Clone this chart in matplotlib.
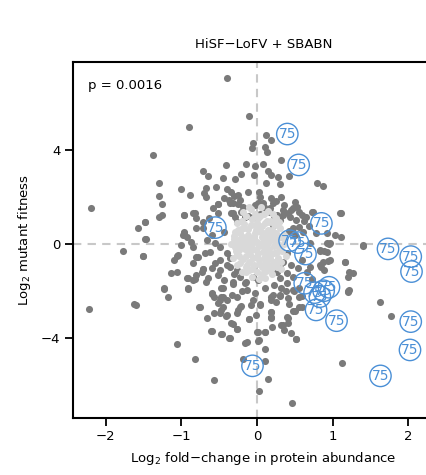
import matplotlib.pyplot as plt

# dark gray points (log2 fold-change, log2 fitness)
dark_x = [-0.40, -0.10, -0.90, -1.37, 0.12, 0.18, -0.05, -0.07, 0.10, 0.13, 0.32, -0.41, -0.14, -0.03, 0.08,
          -0.72, -0.65, -0.21, -0.04, 0.15, 0.19, 0.28, 0.42, -0.45, -0.29, -1.30, 0.12, 0.30, 0.79, 0.87,
          -1.01, -0.88, -0.67, -0.70, -0.68, -0.54, -0.40, -0.34, -0.25, -0.12, 0.03, 0.04, -1.29, -1.25, -2.19,
          -0.51, -0.37, -0.32, -0.23, 0.18, 0.21, 0.32, 0.50, 0.53, 0.01, 0.09, -0.32, -0.21, -0.12, -0.05,
          0.04, 0.17, 0.26, 0.34, 0.43, 0.56, 0.65, 0.74, 1.11, -0.96, -0.82, -0.80, -1.30, -1.48, -1.57,
          -0.96, -0.80, -0.98, -0.29, 0.21, 0.30, 0.78, 1.03, 1.11,
          -1.77, -1.50, -1.47, -1.13, -1.06, -1.09, -1.06, -0.93, -0.91, -1.23, -1.17, -1.63, -1.60, -2.22,
          -0.82, -0.80, -0.85, -0.80, -0.71, -0.68, -0.60, -0.57, -0.76, -0.66, -0.60, -0.57, -1.06, -0.82,
          -0.46, -0.36, -0.47, -0.41, -0.32, -0.26, -0.25, -0.21, -0.16, -0.13, -0.19, -0.10, 0.01, 0.03,
          0.11, 0.10, 0.15, 0.03, 0.46, 1.12, 1.62, 1.77, 1.40, 0.18, 0.19, 0.20, 0.10, 0.32, 0.35, 0.41,
          0.51, 0.48, 0.56, 0.59, 0.49, 0.31, 0.21, 0.18, 0.04, -0.05, -0.03, -0.13, -0.16, -0.32, -0.45,
          -0.45, -0.49, -0.40, 0.94, 1.16, 1.20, 1.27, 1.20, 0.87, 0.85, 0.70, 0.92, 0.95, 0.83, 0.89, 0.56,
          -1.26, -1.48, -1.48, -1.51, -0.97, -0.84, -0.96, -0.93, -1.00, -0.87, -0.85, -0.71, -0.52, -0.51,
          -0.36, -0.25, -0.34, -0.27, -0.16, -0.56, -0.49, -0.62, -0.69, -0.78, -1.04, -0.40, -0.36, -0.49,
          -0.71, -0.60, -0.49, -0.51, -0.36, -0.27, -0.23, -0.14, -0.32, -0.43, -0.47, -0.91, -0.85, -0.73,
          -0.65, -0.91, -1.23,
          -0.03, 0.08, 0.17, 0.23, 0.34, 0.41, 0.48, 0.52, 0.48, 0.59, 0.72, 1.09, 0.56, 0.61, 0.92, 0.96,
          1.40, 0.83, 0.92, 0.96, 1.16, 0.83, 0.89, 1.22, 0.39, 0.34, 0.30, 0.26, 0.39, 0.48, 0.54, 0.70,
          0.39, 0.48, 0.32, 0.23, 1.22, 0.01, -0.05,
          -0.75, -0.61, -0.60, -0.47, -0.51, -0.45, -0.49, -0.40, -0.57, -0.27, -0.23, -0.26, -0.34, -0.27,
          -0.47, -0.37, -0.11,
          0.04, -0.01, 0.19, 0.30, 0.41, 0.42, 0.19, 0.19, 0.39, 0.41, 0.34, 0.45, 0.52, 0.50, 0.59, 0.56,
          0.00, 0.10, 0.01, 1.20,
          -0.58, -0.44, -0.30, -0.18, 0.25, 0.36, 0.45, 0.62, 0.68, -0.63, -0.72, -0.60, -0.66, -0.43, -0.40,
          -0.55, -0.30, 0.30, 0.45, 0.60, 0.66, 0.10, -0.20, 0.25, -0.08, 0.38, -0.33, 0.72, 0.50, 0.42]
dark_y = [7.08, 5.48, 4.99, 3.82, 4.66, 4.44, 4.30, 4.09, 4.13, 3.94, 3.59, 3.38, 3.40, 3.33, 3.42,
          3.12, 2.92, 2.99, 2.95, 3.12, 2.95, 2.85, 2.91, 2.83, 2.76, 2.62, 2.62, 2.56, 2.59, 2.49,
          2.34, 2.09, 2.38, 2.17, 2.02, 2.42, 2.34, 2.24, 2.09, 2.24, 2.24, 2.02, 2.05, 1.71, 1.55,
          1.71, 1.88, 1.76, 1.88, 1.95, 1.74, 2.00, 1.81, 1.59, 1.74, 1.59, 1.31, 1.38, 1.20, 1.17,
          1.28, 1.38, 1.24, 1.45, 1.17, 1.38, 1.17, 1.38, 1.31, 1.24, 1.31, 1.10, 1.17, 0.93, 0.67,
          0.53, 0.67, 0.38, 1.17, 0.81, 1.03, 0.46, 0.38, 0.29,
          -0.30, -0.50, 0.20, -1.23, -1.18, -0.68, -0.51, -1.44, -1.94, -1.91, -2.28, -2.56, -2.62, -2.79,
          -1.51, -1.32, -0.83, -0.54, -1.08, -1.64, -2.08, -2.25, -2.68, -3.15, -3.70, -5.81, -4.27, -4.91,
          -3.85, -4.03, -2.82, -3.08, -3.42, -3.65, -2.82, -2.65, -4.24, -4.18, -4.93, -3.22, -3.75, -4.10,
          -4.47, -4.99, -5.77, -6.27, -6.78, -5.07, -2.49, -3.06, -0.09, -2.89, -3.13, -3.53, -3.75, -3.46, -3.68, -3.18,
          -4.07, -2.85, -2.68, -2.22, -2.01, -2.22, -2.18, -2.39, -2.56, -2.39, -2.11, -1.97, -1.68, -1.71, -1.89,
          -2.25, -2.39, -2.39, -0.73, -0.78, -1.40, -1.25, -2.01, -0.76, -0.97, 0.03, 0.03, -0.01, -0.29, -0.29, -1.89,
          1.24, 0.95, 0.20, -0.51, 1.24, 1.31, 0.46, 0.31, -0.04, 0.10, -0.12, 0.67, 1.71, 1.31,
          1.74, 1.71, 1.31, 0.95, 1.17, 0.03, -0.12, -0.33, -0.40, -0.54, -0.47, -0.40, -0.61, -0.68,
          -1.08, -1.04, -1.11, -1.32, -0.97, -1.11, -1.40, -1.61, -1.61, -1.54, -1.89, -1.47, -1.54, -1.18,
          -1.47, -1.89, -1.89,
          1.67, 1.74, 1.53, 1.17, 1.24, 1.31, 1.53, 1.03, 0.67, 1.24, 1.38, 1.31, 0.74, 0.53, 0.46, 0.03,
          -0.04, -0.26, -0.33, -0.68, -0.76, -0.90, -1.11, -1.18, -0.40, -0.76, -0.97, -1.18, -1.25, -1.40, -1.04, -0.97,
          -1.68, -1.97, -1.89, -1.75, -1.97, -1.54, -1.40,
          -2.68, -3.72, -2.14, -2.25, -2.54, -2.68, -2.96, -3.03, -2.96, -2.25, -2.68, -2.96, -3.39, -3.65,
          -3.85, -4.03, -3.21,
          -2.61, -3.03, -2.25, -2.18, -2.32, -2.56, -2.89, -3.18, -3.11, -3.36, -3.46, -3.79, -4.07, -2.85, -2.68, -2.25,
          -3.75, -3.75, -4.13, -2.04,
          1.55, 1.95, 2.05, 1.60, 1.85, 1.65, 1.45, 1.00, 0.75, 1.10, 0.95, 0.40, 0.15, 0.50, -0.90,
          -0.80, -1.30, -1.45, -0.90, -0.70, -1.20, -1.90, -2.00, -2.50, -2.60, -2.00, -2.20, -1.50, 0.40, 0.55]

# light gray points in the centre
light_x = [-0.30, -0.28, -0.25, -0.22, -0.20, -0.18, -0.15, -0.12, -0.10, -0.08, -0.05, -0.03, 0.00, 0.02,
           0.05, 0.07, 0.10, 0.12, 0.15, 0.18, 0.20, 0.22, 0.25, 0.28, 0.30, 0.33, 0.35, -0.32, -0.26, -0.21,
           -0.17, -0.13, -0.09, -0.06, -0.02, 0.01, 0.04, 0.08, 0.11, 0.14, 0.17, 0.21, 0.24, 0.27, 0.31,
           -0.34, -0.29, -0.24, -0.19, -0.14, -0.11, -0.07, -0.04, 0.00, 0.03, 0.06, 0.09, 0.13, 0.16, 0.19,
           0.23, 0.26, 0.29, -0.23, -0.16, -0.10, 0.05, 0.15, -0.20, 0.00, 0.20, 0.38, 0.36, -0.12, 0.08,
           -0.04, 0.12, -0.27, 0.10, -0.05, -0.08, 0.02, 0.18, -0.15, 0.25,
           -0.31, -0.27, -0.24, -0.22, -0.19, -0.17, -0.14, -0.12, -0.09, -0.07, -0.06, -0.03, -0.01, 0.01,
           0.03, 0.06, 0.08, 0.10, 0.12, 0.14, 0.16, 0.18, 0.21, 0.23, 0.25, 0.27, 0.29, 0.32, 0.34, -0.29,
           -0.26, -0.21, -0.16, -0.11, -0.04, 0.04, 0.09, 0.13, 0.19, 0.22, -0.08, 0.00, 0.06, -0.15, 0.28,
           -0.02, 0.14, -0.18, 0.32, 0.11]
light_y = [0.2, -0.3, 0.6, -0.8, 1.0, 0.0, -0.5, 0.4, -1.1, 0.8, -0.2, 1.3, 0.1, -0.7,
           0.5, -1.3, 0.9, -0.4, 0.2, -0.9, 0.6, -0.1, 1.1, -0.6, 0.3, -0.3, 0.0, -0.6, 0.9, -0.1,
           0.7, -0.9, 0.2, -1.4, 0.6, -0.4, 1.2, -0.1, -1.0, 0.6, -0.6, 1.3, 0.2, -1.0, 0.7,
           0.0, 0.5, -0.5, 0.3, 1.2, -0.3, 0.0, -0.9, 0.9, -0.1, 0.3, -0.6, 1.0, -0.2, 0.4,
           -0.4, 0.8, -0.1, 0.2, -0.2, 1.6, 1.6, 1.4, -1.2, -1.2, -1.3, -0.5, 0.4, 0.0, 0.1,
           0.3, -0.2, -0.9, -0.8, -0.6, 1.5, -1.5, 1.0, -1.2, -0.8,
           0.35, 0.05, -0.25, 0.45, -0.65, 0.85, -0.05, 0.65, -0.45, 1.05, -1.05, 0.45, -0.25, 1.1,
           -0.85, 0.75, -0.35, 0.45, -1.15, 0.05, 0.95, -0.45, 0.15, -0.75, 0.45, -0.35, 0.95, -0.75, 0.25, -0.15,
           -0.45, 0.65, 0.15, -0.75, 0.15, 0.55, 1.3, -0.7, -1.05, 0.85, -0.1, -0.5, -1.0, -1.0, 0.0,
           0.75, 0.35, 1.35, -1.05, -1.45]

# labelled "75" points
lab_x = [0.40, 0.55, 0.85, -0.55, 0.43, 0.54, 0.64, 1.73, 2.03, 2.04, 0.63, 0.95, 0.76, 0.83, 0.88,
         0.78, 1.05, 2.03, 2.02, 1.63, -0.06]
lab_y = [4.70, 3.38, 0.88, 0.70, 0.14, 0.06, -0.43, -0.21, -0.54, -1.18, -1.68, -1.85, -2.08, -2.25, -2.00,
         -2.82, -3.28, -3.32, -4.53, -5.64, -5.21]
lab_text = "75"

fig = plt.figure(figsize=(4.27, 4.75), dpi=100)
ax = fig.add_axes([0.171, 0.12, 0.892, 0.7495])

ax.axvline(0, color="#c8c8c8", ls=(0, (4, 3)), lw=1.5, zorder=1)
ax.axhline(0, color="#c8c8c8", ls=(0, (4, 3)), lw=1.5, zorder=1)

ax.scatter(dark_x, dark_y, s=26, color="#7a7a7a", linewidths=0, zorder=2)
ax.scatter(light_x, light_y, s=26, color="#d9d9d9", linewidths=0, zorder=3)

for x, y in zip(lab_x, lab_y):
    ax.text(x, y, lab_text, color="#4a8fd6", fontsize=10, ha="center", va="center", zorder=4,
            bbox=dict(boxstyle="circle,pad=0.14", fc="none", ec="#4a8fd6", lw=1.0))

ax.text(0.04, 0.935, "p = 0.0016", transform=ax.transAxes, fontsize=9.5, va="center")

ax.set_xlim(-2.43, 2.6)
ax.set_ylim(-7.44, 7.78)
ax.set_xticks([-2, -1, 0, 1, 2])
ax.set_yticks([-4, 0, 4])
ax.tick_params(direction="out", length=6, width=1.3, labelsize=9.5, pad=3)
for s in ["left", "bottom", "top", "right"]:
    ax.spines[s].set_linewidth(1.5)

ax.set_title("HiSF\u2212LoFV + SBABN", fontsize=9.5, pad=10)
ax.set_xlabel("Log$_2$ fold\u2212change in protein abundance", fontsize=9.5, labelpad=5)
ax.set_ylabel("Log$_2$ mutant fitness", fontsize=9.5, labelpad=6)

fig.savefig("out.png", dpi=100)
